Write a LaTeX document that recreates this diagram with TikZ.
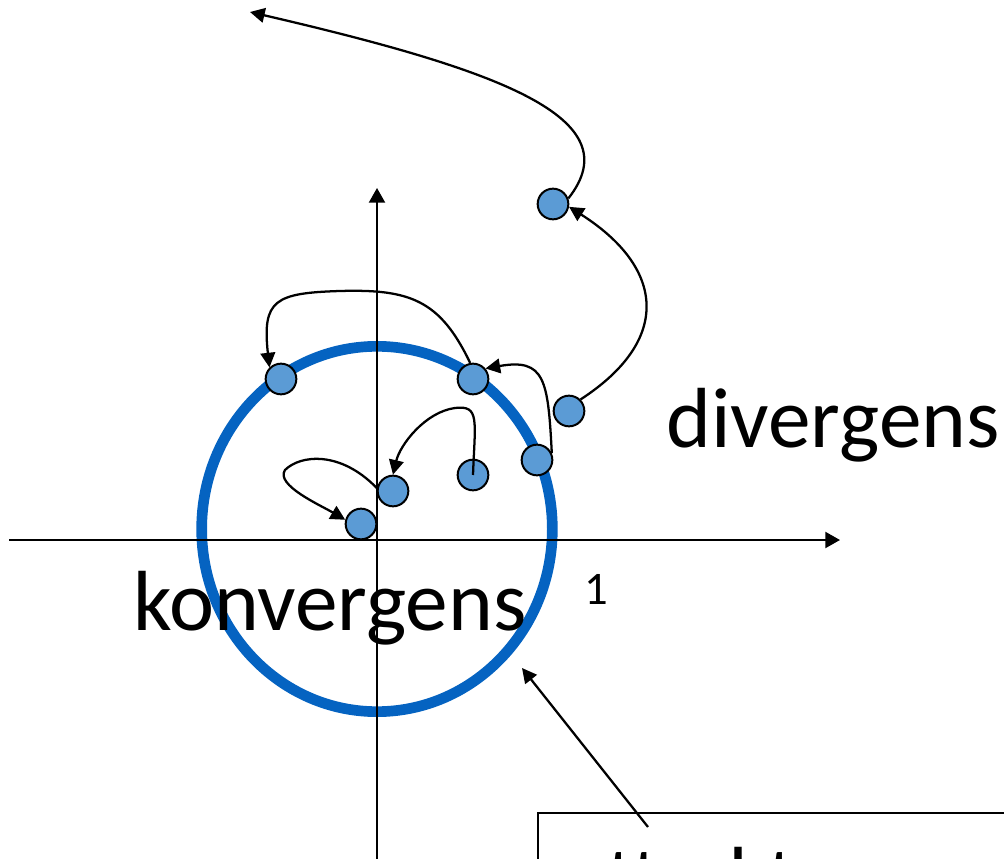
\documentclass[tikz,border=0pt]{standalone}
\usepackage{fontspec}
\setmainfont{Carlito}
\usepackage{xcolor}
\usetikzlibrary{arrows.meta, shapes.geometric}

\definecolor{ringblue}{HTML}{0563C1}
\definecolor{dotblue}{HTML}{5B9BD5}

\begin{document}
\begin{tikzpicture}[
    x=0.75pt,
    y=-0.75pt,
    every node/.style={
        inner sep=0pt
    },
    ring/.style={
        ellipse,
        draw=ringblue,
        line width=8pt,
        minimum width=263pt,
        minimum height=274pt
    },
    dot/.style={
        circle,
        draw,
        line width=1.5pt,
        fill=dotblue,
        minimum size=23pt
    },
    axis/.style={
        -{Triangle[length=11pt, width=12pt]},
        line width=1.6pt
    },
    line/.style={
        -{Triangle[length=11pt, width=11pt]},
        line width=1.7pt
    },
    bigtext/.style={
        font=\fontsize{64}{72}\selectfont,
        anchor=base west
    },
    smalltext/.style={
        font=\fontsize{35}{40}\selectfont
    },
    infobox/.style={
        draw,
        line width=1.5pt,
        anchor=north west,
        minimum width=420pt,
        minimum height=120pt
    }
]

\useasboundingbox (0,0) rectangle (1004,859);
\clip (0,0) rectangle (1004,859);

\node[ring] (unit) at (377,529) {};

\coordinate (xleft) at (9,540);
\coordinate (xright) at (840,540);
\coordinate (ybottom) at (377,880);
\coordinate (ytop) at (377,188);

\draw[axis] (xleft) -- (xright);
\draw[axis] (ybottom) -- (ytop);

\node[dot] (a) at (553,204) {};
\node[dot] (b) at (281,379) {};
\node[dot] (c) at (473,379) {};
\node[dot] (d) at (569,411) {};
\node[dot] (e) at (537,460) {};
\node[dot] (f) at (473,475) {};
\node[dot] (g) at (393,491) {};
\node[dot] (h) at (361,524) {};

\coordinate (far) at (250,12);

\draw[line] (a.20) .. controls (632,118) and (500,70) .. (far);
\draw[line] (d.45) .. controls (672,340) and (665,268) .. (a.-10);
\draw[line] (c.100) .. controls (440,300) and (410,289) .. (340,291)
    .. controls (275,293) and (262,300) .. (b.135);
\draw[line] (e.25) .. controls (548,380) and (545,358) .. (c.40);
\draw[line] (f.center) .. controls (475,420) and (480,405) .. (455,408)
    .. controls (425,412) and (400,445) .. (g.90);
\draw[line] (g.170) .. controls (340,450) and (300,455) .. (285,470)
    .. controls (275,485) and (320,505) .. (h.165);

\node[bigtext] (div) at (666,447) {divergens};
\node[bigtext] (konv) at (133,630) {konvergens};
\node[smalltext] (one) at (596,589) {1};

\node[infobox] (box) at (537,812) {};
\node[bigtext] (boxtext) at (566,906) {attraktor = $U$};

\coordinate (boxpin) at (648,827);
\coordinate (unitpin) at (522,668);
\draw[line] (boxpin) -- (unitpin);

\end{tikzpicture}
\end{document}
